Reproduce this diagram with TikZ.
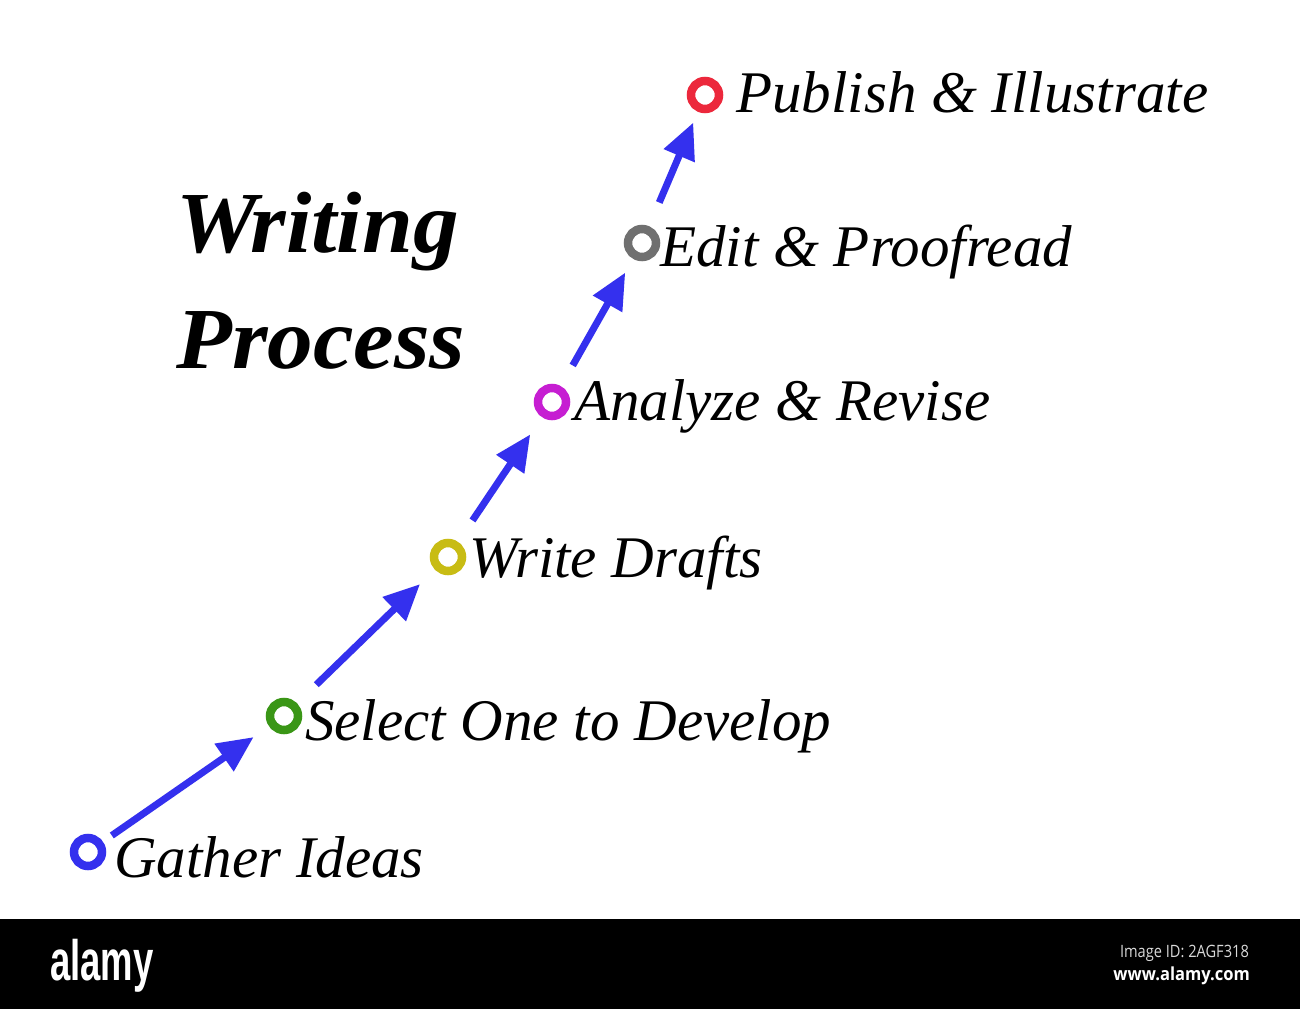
\documentclass[tikz,border=0pt]{standalone}
\usepackage{fontspec}
\setmainfont{Liberation Serif}
\newfontfamily\wmfont{Liberation Sans}
\newfontfamily\wmsmall{Open Sans}
\usetikzlibrary{arrows.meta}
\definecolor{arrowblue}{RGB}{52,48,238}
\definecolor{cblue}{RGB}{52,48,238}
\definecolor{cgreen}{RGB}{58,150,22}
\definecolor{colive}{RGB}{200,188,20}
\definecolor{cmagenta}{RGB}{198,30,210}
\definecolor{cgray}{RGB}{112,112,112}
\definecolor{cred}{RGB}{236,40,60}
\begin{document}
\begin{tikzpicture}[x=1pt,y=-1pt,
  ring/.style={circle,draw=#1,line width=8.5pt,minimum size=28pt,inner sep=0pt},
  lbl/.style={anchor=base west,inner sep=0pt,font=\fontsize{59}{62}\selectfont\itshape},
  ttl/.style={anchor=base west,inner sep=0pt,xscale=1.05,font=\fontsize{87}{92}\selectfont\bfseries\itshape},
  arr/.style={draw=arrowblue,line width=7pt,-{Triangle[length=36pt,width=32pt]}},
  wm/.style={inner sep=0pt,text=white}]
\useasboundingbox (0,0) rectangle (1300,1009);
\fill[white] (0,0) rectangle (1300,919);
\fill[black] (0,919) rectangle (1300,1009);

% title
\node[ttl] (t1) at (176,252) {Writing};
\node[ttl] (t2) at (176,368) {Process};

% rings
\node[ring=cblue]    (c1) at (88,852) {};
\node[ring=cgreen]   (c2) at (284,716) {};
\node[ring=colive]   (c3) at (448,557) {};
\node[ring=cmagenta] (c4) at (552,402) {};
\node[ring=cgray]    (c5) at (642,243) {};
\node[ring=cred]     (c6) at (705,95) {};

% labels
\node[lbl] (l1) at (114,877) {Gather Ideas};
\node[lbl] (l2) at (305,740) {Select One to Develop};
\node[lbl] (l3) at (469,577) {Write Drafts};
\node[lbl] (l4) at (574,420) {Analyze \& Revise};
\node[lbl] (l5) at (660,266) {Edit \& Proofread};
\node[lbl] (l6) at (736,112) {Publish \& Illustrate};

% arrows
\draw[arr,shorten <=29pt,shorten >=37pt] (c1.center) -- (c2.center);
\draw[arr,shorten <=45pt,shorten >=39pt] (c2.center) -- (c3.center);
\draw[arr,shorten <=44pt,shorten >=39pt] (c3.center) -- (c4.center);
\draw[arr,shorten <=42pt,shorten >=34pt] (c4.center) -- (c5.center);
\draw[arr,shorten <=44pt,shorten >=30pt] (c5.center) -- (c6.center);

% watermark band
\node[wm,anchor=base west,font=\wmfont\bfseries\fontsize{57}{57}\selectfont,xscale=0.64] (wm1) at (50,980) {alamy};
\node[wm,anchor=base east,text=white!85!black,xscale=0.86,font=\wmsmall\fontsize{17}{18}\selectfont] (wm2) at (1249,957) {Image ID: 2AGF318};
\node[wm,anchor=base east,xscale=0.92,font=\wmsmall\bfseries\fontsize{18}{19}\selectfont] (wm3) at (1250,980) {www.alamy.com};
\end{tikzpicture}
\end{document}
